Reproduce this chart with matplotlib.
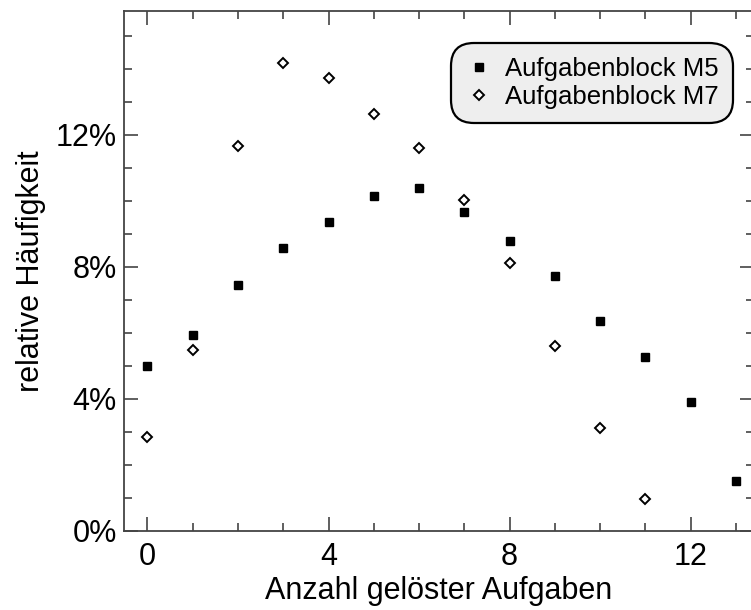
import matplotlib
matplotlib.use("Agg")
import matplotlib.pyplot as plt
from matplotlib.ticker import MultipleLocator

plt.rcParams['font.family'] = ['Liberation Sans', 'DejaVu Sans']

# relative Haeufigkeit in %
anzahl_m5 = [0, 1, 2, 3, 4, 5, 6, 7, 8, 9, 10, 11, 12, 13]
m5 = [4.99, 5.93, 7.44, 8.57, 9.35, 10.14, 10.38, 9.66, 8.78, 7.72, 6.36, 5.26, 3.90, 1.51]
anzahl_m7 = [0, 1, 2, 3, 4, 5, 6, 7, 8, 9, 10, 11]
m7 = [2.84, 5.48, 11.66, 14.17, 13.72, 12.63, 11.60, 10.02, 8.11, 5.60, 3.11, 0.96]

xticks = [0, 4, 8, 12]
yticks = [0, 4, 8, 12]
yticklabels = ['0%', '4%', '8%', '12%']

fig = plt.figure(figsize=(7.51, 6.10), dpi=100)
# right spine sits just past the image edge, like in the original
ax = fig.add_axes([0.165, 0.13, 0.839, 0.852])

ax.plot(anzahl_m5, m5, linestyle='none', marker='s', markersize=6,
        color='black', label='Aufgabenblock M5')
ax.plot(anzahl_m7, m7, linestyle='none', marker='D', markersize=5.5,
        markerfacecolor='white', markeredgecolor='black', markeredgewidth=1.4,
        label='Aufgabenblock M7')

ax.set_xlim(-0.52, 13.4)
ax.set_ylim(0, 15.75)
ax.set_xticks(xticks)
ax.set_yticks(yticks)
ax.set_yticklabels(yticklabels)
ax.xaxis.set_minor_locator(MultipleLocator(1))
ax.yaxis.set_minor_locator(MultipleLocator(1))

for s in ax.spines.values():
    s.set_color('#444444')
    s.set_linewidth(1.3)
ax.tick_params(which='both', direction='in', top=True, right=True,
               color='#444444', width=1.2, labelsize=22)
ax.tick_params(which='major', length=10)
ax.tick_params(which='minor', length=5.5)
ax.tick_params(axis='x', which='major', pad=8)
ax.tick_params(axis='y', which='major', pad=5)

ax.set_xlabel('Anzahl gelöster Aufgaben', fontsize=22, labelpad=3)
ax.set_ylabel('relative Häufigkeit', fontsize=22, labelpad=7)

leg = ax.legend(loc='upper right', bbox_to_anchor=(0.966, 0.938),
                borderaxespad=0, fontsize=18.5, handlelength=1.1,
                handletextpad=0.45, labelspacing=0.15, borderpad=0.55,
                markerscale=0.85, numpoints=1, fancybox=True, framealpha=1)
frame = leg.get_frame()
frame.set_boxstyle('round,pad=0,rounding_size=0.9')
frame.set_facecolor('#eeeeee')
frame.set_edgecolor('black')
frame.set_linewidth(1.6)

fig.savefig('out.png', dpi=100)
